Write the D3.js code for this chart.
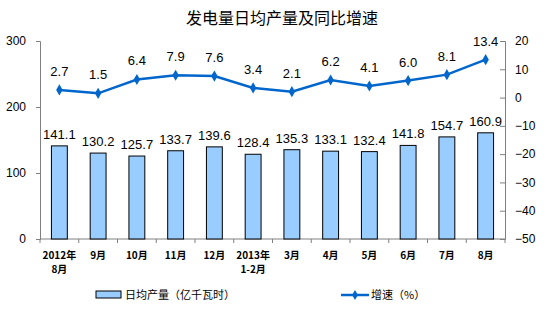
<!DOCTYPE html>
<html>
<head>
<meta charset="utf-8">
<script src="https://cdn.jsdelivr.net/npm/d3@7"></script>
<style>
  body { margin: 0; background: #fff; }
  svg { display: block; }
</style>
</head>
<body>
<svg id="chart" width="558" height="330"></svg>
<script>
// Monthly categories (first line / optional second line)
const categories = ["2012年|8月", "9月", "10月", "11月", "12月", "2013年|1-2月", "3月", "4月", "5月", "6月", "7月", "8月"];
// Average daily generation, 100 million kWh
const dailyOutput = [141.1, 130.2, 125.7, 133.7, 139.6, 128.4, 135.3, 133.1, 132.4, 141.8, 154.7, 160.9];
// Year-on-year growth, %
const growthRate = [2.7, 1.5, 6.4, 7.9, 7.6, 3.4, 2.1, 6.2, 4.1, 6.0, 8.1, 13.4];
const leftTicks = [0, 100, 200, 300];
const rightTicks = [-50, -40, -30, -20, -10, 0, 10, 20];

(function () {
const svg = d3.select("#chart");
const cjk = "'Noto Sans CJK SC', 'Noto Sans', sans-serif";
const latin = "'Liberation Sans', Arial, sans-serif";

const plotLeft = 40, plotRight = 505, plotTop = 41, plotBottom = 239;

const x = d3.scaleBand().domain(categories).range([plotLeft, plotRight]).paddingInner(0.59).paddingOuter(0.295);
const yL = d3.scaleLinear().domain([0, 300]).range([plotBottom, plotTop]);
const yR = d3.scaleLinear().domain([-50, 20]).range([plotBottom, plotTop]);

// Title
svg.append("text").attr("x", 282).attr("y", 24).attr("text-anchor", "middle")
  .style("font-family", cjk).style("font-size", "16px").attr("fill", "#000")
  .text("发电量日均产量及同比增速");

// Left axis
const axL = svg.append("g").attr("transform", `translate(${plotLeft},0)`)
  .call(d3.axisLeft(yL).tickValues(leftTicks).tickSize(4).tickPadding(10));
// Right axis (ticks point inward)
const axR = svg.append("g").attr("transform", `translate(${plotRight},0)`)
  .call(d3.axisRight(yR).tickValues(rightTicks).tickSize(-5).tickPadding(10));
[axL, axR].forEach(g => {
  g.select(".domain").attr("stroke", "#808080");
  g.selectAll(".tick line").attr("stroke", "#808080");
  g.selectAll(".tick text").style("font-family", latin).style("font-size", "12px").attr("fill", "#000");
});

// Bottom axis line with tick marks between categories
const step = x.step();
svg.append("line").attr("x1", plotLeft).attr("x2", plotRight).attr("y1", plotBottom).attr("y2", plotBottom).attr("stroke", "#808080");
svg.append("g").selectAll("line").data(d3.range(categories.length + 1)).join("line")
  .attr("x1", i => plotLeft + i * step).attr("x2", i => plotLeft + i * step)
  .attr("y1", plotBottom).attr("y2", plotBottom + 4).attr("stroke", "#808080");

// Category labels
const catG = svg.append("g");
categories.forEach(c => {
  const parts = c.split("|");
  const mx = x(c) + x.bandwidth() / 2;
  parts.forEach((p, j) => {
    catG.append("text").attr("x", mx).attr("y", 259 + j * 14).attr("text-anchor", "middle")
      .style("font-family", cjk).style("font-size", "10px").style("font-weight", "bold").attr("fill", "#000")
      .text(p);
  });
});

// Bars
svg.append("g").selectAll("rect").data(dailyOutput).join("rect")
  .attr("x", (d, i) => x(categories[i]))
  .attr("y", d => yL(d))
  .attr("width", x.bandwidth())
  .attr("height", d => yL(0) - yL(d))
  .attr("fill", "#99CCFF").attr("stroke", "#000").attr("stroke-width", 1);

// Bar value labels
svg.append("g").selectAll("text").data(dailyOutput).join("text")
  .attr("x", (d, i) => x(categories[i]) + x.bandwidth() / 2)
  .attr("y", d => yL(d) - 7)
  .attr("text-anchor", "middle")
  .style("font-family", latin).style("font-size", "13px").attr("fill", "#000")
  .text(d => d.toFixed(1));

// Growth line
const cx = i => x(categories[i]) + x.bandwidth() / 2;
const line = d3.line().x((d, i) => cx(i)).y(d => yR(d));
svg.append("path").datum(growthRate).attr("d", line)
  .attr("fill", "none").attr("stroke", "#0066CC").attr("stroke-width", 2.5);
svg.append("g").selectAll("path").data(growthRate).join("path")
  .attr("transform", (d, i) => `translate(${cx(i)},${yR(d)})`)
  .attr("d", d3.symbol(d3.symbolDiamond, 36))
  .attr("fill", "#0066CC");

// Growth value labels
svg.append("g").selectAll("text").data(growthRate).join("text")
  .attr("x", (d, i) => cx(i))
  .attr("y", d => yR(d) - 14)
  .attr("text-anchor", "middle")
  .style("font-family", latin).style("font-size", "13px").attr("fill", "#000")
  .text(d => d.toFixed(1));

// Legend
const lg = svg.append("g");
lg.append("rect").attr("x", 96).attr("y", 291).attr("width", 25).attr("height", 7)
  .attr("fill", "#99CCFF").attr("stroke", "#000");
lg.append("text").attr("x", 125).attr("y", 299)
  .style("font-family", cjk).style("font-size", "11px").attr("fill", "#000")
  .text("日均产量（亿千瓦时）");
lg.append("line").attr("x1", 341).attr("x2", 369).attr("y1", 295).attr("y2", 295)
  .attr("stroke", "#0066CC").attr("stroke-width", 2.5);
lg.append("path").attr("transform", "translate(355,295)")
  .attr("d", d3.symbol(d3.symbolDiamond, 30)).attr("fill", "#0066CC");
lg.append("text").attr("x", 371).attr("y", 299)
  .style("font-family", cjk).style("font-size", "11px").attr("fill", "#000")
  .text("增速（%）");
})();
</script>
</body>
</html>
